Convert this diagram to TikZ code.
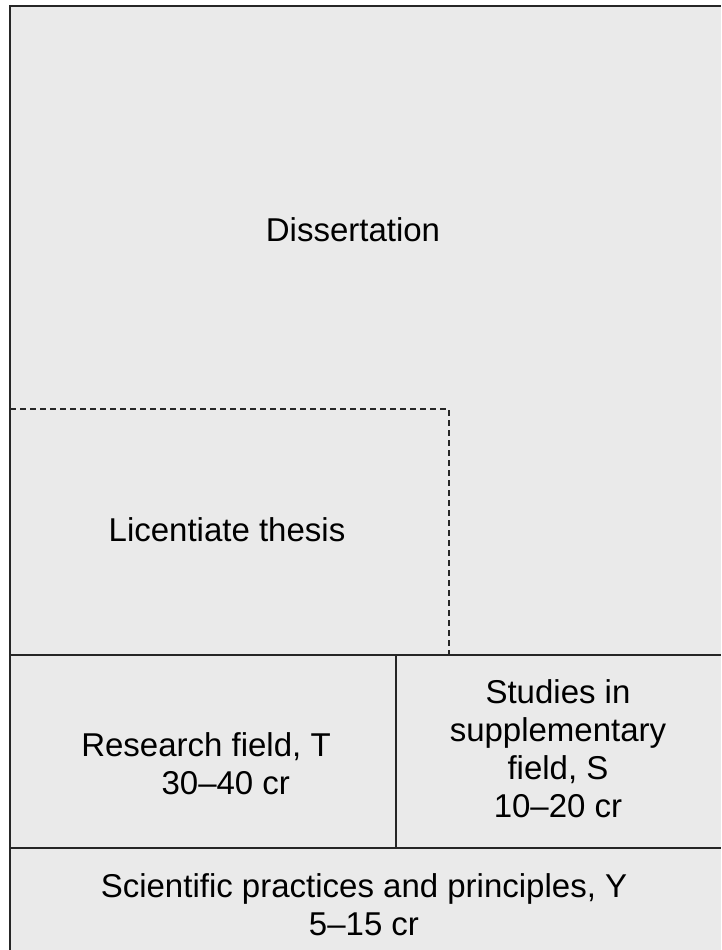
\documentclass[tikz,border=0pt]{standalone}
\usepackage{fontspec}
\setmainfont{Liberation Sans}
\usepackage{tikz}
\definecolor{boxgray}{HTML}{EAEAEA}
\tikzset{label/.style={align=center, font=\fontsize{33}{38}\selectfont, inner sep=0pt}}
\tikzset{wall/.style={line width=1.8pt, draw=black!85}}

\begin{document}
\begin{tikzpicture}[x=1pt, y=-1pt]

\useasboundingbox (0,0) rectangle (721,950);
\fill[boxgray] (10,6) rectangle (721,950);
\draw[wall, line width=2.2pt] (10,950) -- (10,6) -- (721,6);

\draw[wall, line width=2pt, dash pattern=on 6pt off 4pt] (10,409) -- (449,409) -- (449,655);
\draw[wall] (10,655) -- (721,655);
\draw[wall] (396,655) -- (396,848);
\draw[wall] (10,848) -- (721,848);

\node[label] (diss) at (353,230) {Dissertation};
\node[label] (lic) at (227,530) {Licentiate thesis};
\node[label] (resf) at (206,764) {Research field, T\\\hspace*{1.2em}30--40 cr};
\node[label] (supf) at (558,749) {Studies in\\supplementary\\field, S\\10--20 cr};
\node[label] (sci) at (364,905) {Scientific practices and principles, Y\\5--15 cr};

\end{tikzpicture}
\end{document}
